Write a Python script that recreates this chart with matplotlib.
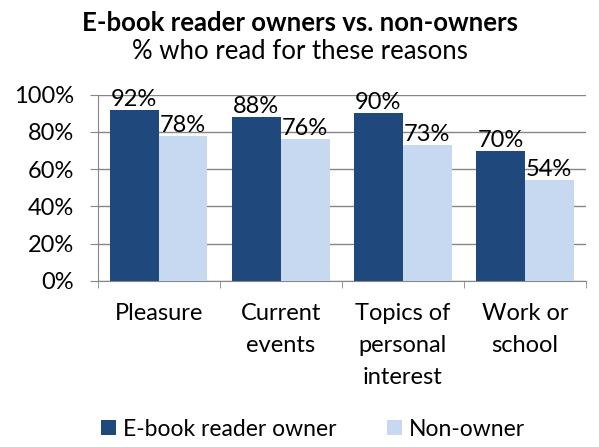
import matplotlib.pyplot as plt
import numpy as np

categories = ["Pleasure", "Current\nevents", "Topics of\npersonal\ninterest", "Work or\nschool"]
owners = [92, 88, 90, 70]
non_owners = [78, 76, 73, 54]
series_names = ["E-book reader owner", "Non-owner"]

dark = "#1f497d"
light = "#c6d9f1"
plt.rcParams["font.family"] = ["Lato", "DejaVu Sans"]

fig = plt.figure(figsize=(5.99, 4.47), dpi=100)
ax = fig.add_axes([0.163, 0.372, 0.815, 0.416])

x = np.arange(len(categories))
w = 0.4
b1 = ax.bar(x - w / 2, owners, w, color=dark, label=series_names[0], zorder=3)
b2 = ax.bar(x + w / 2, non_owners, w, color=light, label=series_names[1], zorder=3)

for bars, vals in ((b1, owners), (b2, non_owners)):
    for r, v in zip(bars, vals):
        ax.text(r.get_x() + r.get_width() / 2, v, f"{v}%", ha="center", va="bottom",
                fontsize=17)

ax.set_xlim(-0.5, len(categories) - 0.5)
ax.set_ylim(0, 100)
ax.set_yticks(range(0, 101, 20))
ax.set_yticklabels([f"{t}%" for t in range(0, 101, 20)], fontsize=17)
ax.yaxis.grid(True, color="#868686", linewidth=1, zorder=0)
ax.set_xticks(x)
ax.set_xticklabels(categories, fontsize=17, linespacing=1.65, va="top")
ax.set_xticks(np.arange(-0.5, len(categories)), minor=True)
ax.tick_params(axis="x", which="major", length=0, pad=16)
ax.tick_params(axis="x", which="minor", length=5, color="#868686", direction="out")
ax.tick_params(axis="y", length=6, color="#868686", pad=11)
for s in ("top", "right"):
    ax.spines[s].set_visible(False)
for s in ("left", "bottom"):
    ax.spines[s].set_color("#868686")

fig.text(0.5, 0.948, "E-book reader owners vs. non-owners", ha="center", va="center",
         fontsize=18.5, fontweight="bold")
fig.text(0.5, 0.885, "% who read for these reasons", ha="center", va="center", fontsize=18.5)

fig.legend(handles=[b1, b2], loc="center", bbox_to_anchor=(0.523, 0.04), ncol=2,
           frameon=False, fontsize=16.5, handlelength=0.65, handleheight=0.65,
           handletextpad=0.3, columnspacing=2.2, borderpad=0.2)

fig.savefig("out.png", dpi=100)
